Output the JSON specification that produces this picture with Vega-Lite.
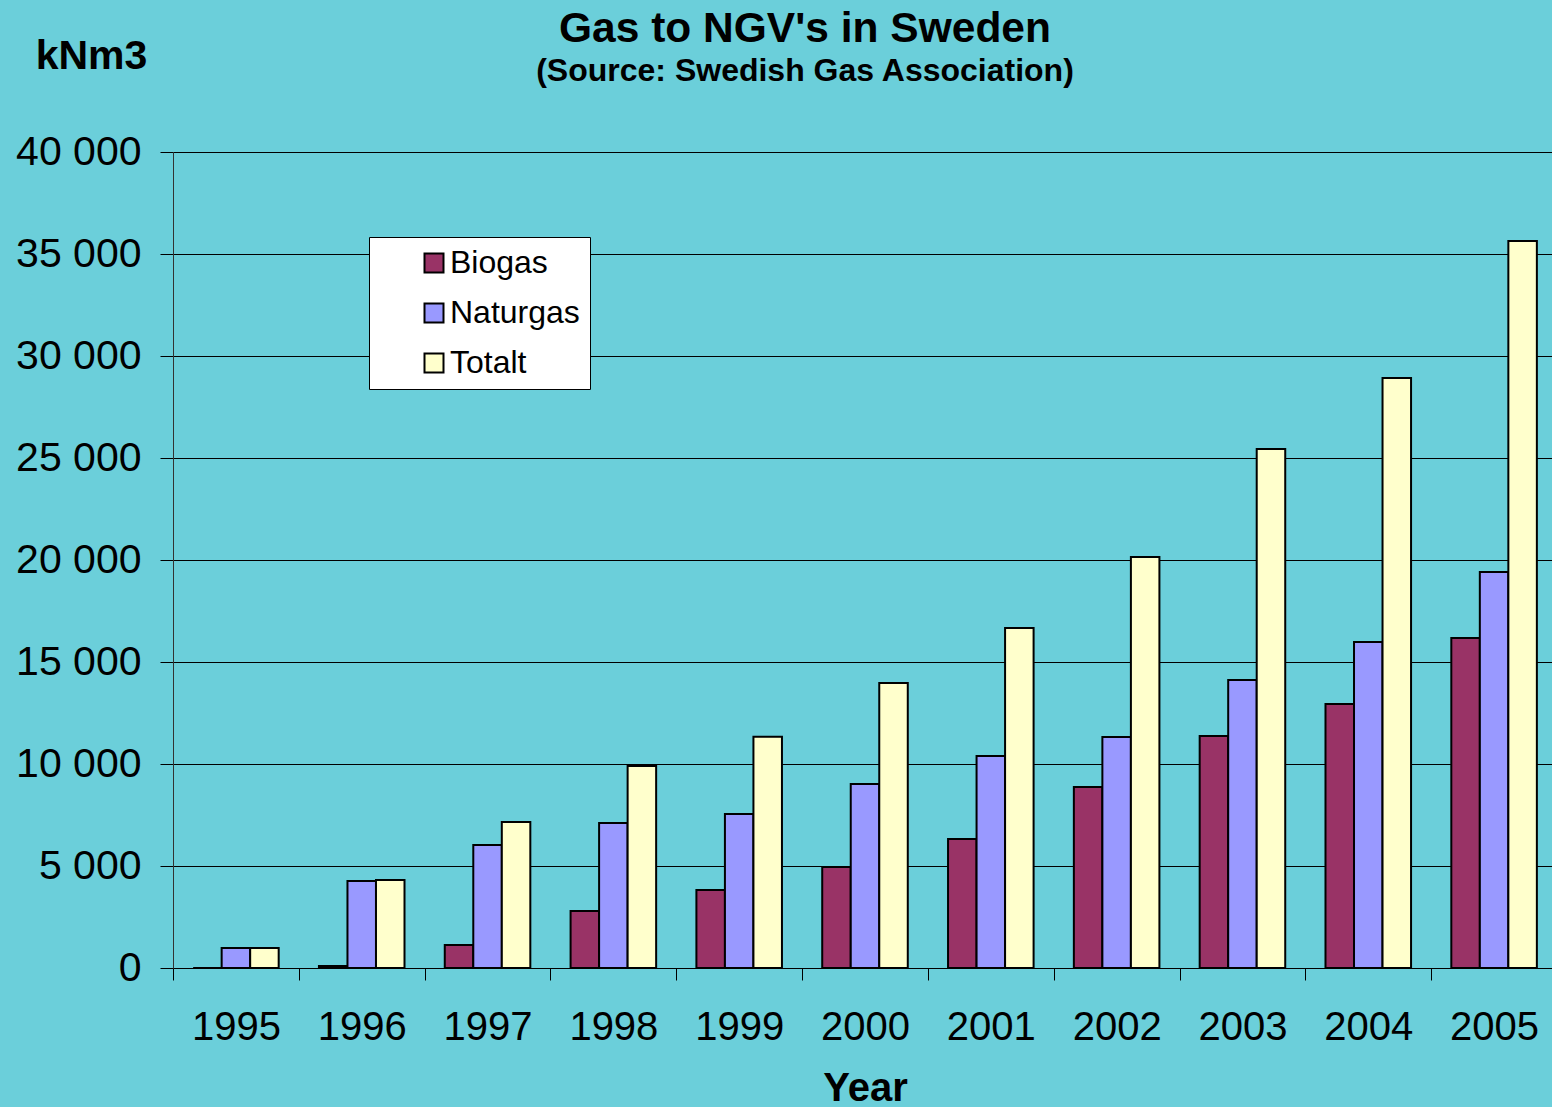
{
  "$schema": "https://vega.github.io/schema/vega-lite/v6.json",
  "width": 1384,
  "height": 816,
  "autosize": {"type": "none"},
  "padding": {"left": 173, "top": 152, "right": 0, "bottom": 139},
  "background": "#6bcfda",
  "config": {"view": {"stroke": null}, "font": "Liberation Sans"},
  "title": {
    "text": "Gas to NGV's in Sweden",
    "subtitle": "(Source: Swedish Gas Association)",
    "font": "Liberation Sans",
    "fontSize": 42.5,
    "fontWeight": "bold",
    "color": "black",
    "subtitleFont": "Liberation Sans",
    "subtitleFontSize": 32,
    "subtitleFontWeight": "bold",
    "subtitleColor": "black",
    "subtitlePadding": 6,
    "anchor": "middle",
    "frame": "group",
    "dx": -60,
    "offset": -52
  },
  "data": {
    "values": [
      {"year": "1995", "series": "Biogas", "value": 0},
      {"year": "1995", "series": "Naturgas", "value": 980},
      {"year": "1995", "series": "Totalt", "value": 980},
      {"year": "1996", "series": "Biogas", "value": 100},
      {"year": "1996", "series": "Naturgas", "value": 4265},
      {"year": "1996", "series": "Totalt", "value": 4315},
      {"year": "1997", "series": "Biogas", "value": 1130},
      {"year": "1997", "series": "Naturgas", "value": 6030},
      {"year": "1997", "series": "Totalt", "value": 7160},
      {"year": "1998", "series": "Biogas", "value": 2800},
      {"year": "1998", "series": "Naturgas", "value": 7110},
      {"year": "1998", "series": "Totalt", "value": 9900},
      {"year": "1999", "series": "Biogas", "value": 3820},
      {"year": "1999", "series": "Naturgas", "value": 7550},
      {"year": "1999", "series": "Totalt", "value": 11330},
      {"year": "2000", "series": "Biogas", "value": 4950},
      {"year": "2000", "series": "Naturgas", "value": 9020},
      {"year": "2000", "series": "Totalt", "value": 13970},
      {"year": "2001", "series": "Biogas", "value": 6320},
      {"year": "2001", "series": "Naturgas", "value": 10390},
      {"year": "2001", "series": "Totalt", "value": 16670},
      {"year": "2002", "series": "Biogas", "value": 8870},
      {"year": "2002", "series": "Naturgas", "value": 11320},
      {"year": "2002", "series": "Totalt", "value": 20150},
      {"year": "2003", "series": "Biogas", "value": 11370},
      {"year": "2003", "series": "Naturgas", "value": 14120},
      {"year": "2003", "series": "Totalt", "value": 25440},
      {"year": "2004", "series": "Biogas", "value": 12940},
      {"year": "2004", "series": "Naturgas", "value": 15980},
      {"year": "2004", "series": "Totalt", "value": 28920},
      {"year": "2005", "series": "Biogas", "value": 16180},
      {"year": "2005", "series": "Naturgas", "value": 19410},
      {"year": "2005", "series": "Totalt", "value": 35640}
    ]
  },
  "mark": {"type": "bar", "stroke": "black", "strokeWidth": 2},
  "encoding": {
    "x": {
      "field": "year",
      "type": "ordinal",
      "scale": {"paddingInner": 0.32, "paddingOuter": 0.16},
      "axis": {
        "labelAngle": 0,
        "tickOffset": -62.9,
        "labelOffset": 62.9,
        "tickSize": 12,
        "tickColor": "black",
        "domainColor": "black",
        "labelFont": "Liberation Sans",
        "labelFontSize": 40,
        "labelColor": "black",
        "labelPadding": 27,
        "title": "Year",
        "titleFont": "Liberation Sans",
        "titleFontSize": 40,
        "titleFontWeight": "bold",
        "titleColor": "black",
        "titleX": 692,
        "titleY": 132,
        "titleBaseline": "alphabetic"
      }
    },
    "xOffset": {"field": "series", "sort": ["Biogas", "Naturgas", "Totalt"], "scale": {"paddingInner": 0, "paddingOuter": 0}},
    "y": {
      "field": "value",
      "type": "quantitative",
      "scale": {"domain": [0, 40000]},
      "axis": {
        "values": [0, 5000, 10000, 15000, 20000, 25000, 30000, 35000, 40000],
        "labelExpr": "replace(format(datum.value, ','), ',', ' ')",
        "labelFont": "Liberation Sans",
        "labelFontSize": 41,
        "labelColor": "black",
        "labelPadding": 19,
        "tickSize": 13,
        "tickColor": "black",
        "domainColor": "#333333",
        "grid": true,
        "gridColor": "black",
        "gridWidth": 1,
        "gridOpacity": 1,
        "title": "kNm3",
        "titleAngle": 0,
        "titleX": -82,
        "titleY": -84,
        "titleAlign": "center",
        "titleBaseline": "alphabetic",
        "titleFont": "Liberation Sans",
        "titleFontSize": 41,
        "titleFontWeight": "bold",
        "titleColor": "black"
      }
    },
    "color": {
      "field": "series",
      "type": "nominal",
      "scale": {"domain": ["Biogas", "Naturgas", "Totalt"], "range": ["#993366", "#9999ff", "#ffffcc"]},
      "legend": {
        "title": null,
        "orient": "none",
        "legendX": 196,
        "legendY": 85,
        "fillColor": "white",
        "strokeColor": "black",
        "padding": 10,
        "symbolType": "square",
        "symbolSize": 361,
        "symbolStrokeColor": "black",
        "symbolStrokeWidth": 2,
        "symbolOffset": 39,
        "labelOffset": 0,
        "labelFont": "Liberation Sans",
        "labelFontSize": 32,
        "labelColor": "black",
        "labelLimit": 400,
        "rowPadding": 18
      }
    }
  }
}
